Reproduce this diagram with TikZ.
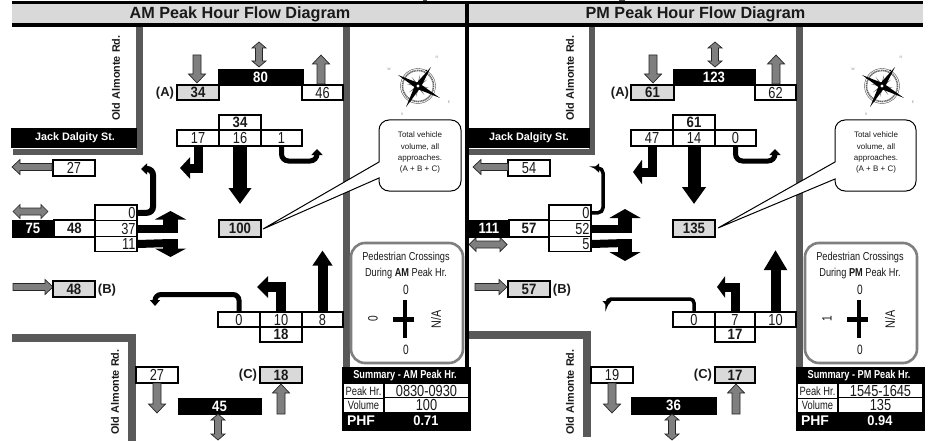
\documentclass[tikz,border=0pt]{standalone}
\usepackage{fontspec}
\usepackage{graphicx}
\setmainfont{Liberation Sans}
\usetikzlibrary{arrows.meta}
\definecolor{road}{HTML}{595959}
\definecolor{band}{HTML}{D9D9D9}
\definecolor{garr}{HTML}{7F7F7F}
\definecolor{ink}{HTML}{1A1A1A}
\newcommand{\rn}[1]{\scalebox{.8}[1]{\fontsize{16}{16}\selectfont #1}}
\newcommand{\bn}[1]{\scalebox{.88}[1]{\fontsize{15}{15}\selectfont\bfseries #1}}
\newcommand{\lb}[1]{{\fontsize{13}{14}\selectfont\bfseries #1}}
\newcommand{\sq}[3]{\scalebox{#1}[1]{\fontsize{#2}{#2}\selectfont #3}}
\tikzset{
  cellbox/.style={draw=black,line width=1.5pt,fill=white,inner sep=0pt,text=ink},
  graycell/.style={cellbox,fill=band},
  darkcell/.style={draw=black,line width=.8pt,fill=black,inner sep=0pt,text=white},
  rt/.style={inner xsep=1.5pt,text width={\cw pt-3pt},align=right},
  flow/.style n args={3}{draw=black,line width=#1pt,-{Triangle[length=#2pt,width=#3pt]}},
  garrow/.style={fill=garr,draw=black!85,line width=.7pt,line join=miter},
  callout/.style={draw=black,fill=white,line width=1pt},
  pedbox/.style={draw=garr,fill=white,line width=2.6pt,rounded corners=14pt},
  rdname/.style={font=\fontsize{10.85}{11}\selectfont\bfseries,text=ink,rotate=90,inner sep=0pt},
  txt/.style={inner sep=0pt,text=ink},
}
% \cell[style]{name}{x1}{y1}{x2}{y2}{text}
\newcommand{\cell}[7][cellbox]{%
  \pgfmathsetmacro{\cw}{(#5)-(#3)}\pgfmathsetmacro{\ch}{(#6)-(#4)}%
  \node[minimum width=\cw pt,minimum height=\ch pt,#1] (#2) at ({((#3)+(#5))/2},{((#4)+(#6))/2}) {#7};}
% gray arrows
\newcommand{\gv}[3]{\draw[garrow] ({#1-4},#2) -- ({#1+4},#2) -- ({#1+4},{#3-9*sign(#3-#2)}) -- ({#1+8.5},{#3-9*sign(#3-#2)}) -- (#1,#3) -- ({#1-8.5},{#3-9*sign(#3-#2)}) -- ({#1-4},{#3-9*sign(#3-#2)}) -- cycle;}
\newcommand{\gh}[3]{\draw[garrow] (#2,{#1-3.5}) -- (#2,{#1+3.5}) -- ({#3-8*sign(#3-#2)},{#1+3.5}) -- ({#3-8*sign(#3-#2)},{#1+7.5}) -- (#3,#1) -- ({#3-8*sign(#3-#2)},{#1-7.5}) -- ({#3-8*sign(#3-#2)},{#1-3.5}) -- cycle;}
\newcommand{\gvv}[3]{\draw[garrow] (#1,#2) -- ({#1+7},{#2+6}) -- ({#1+3.5},{#2+6}) -- ({#1+3.5},{#3-6}) -- ({#1+7},{#3-6}) -- (#1,#3) -- ({#1-7},{#3-6}) -- ({#1-3.5},{#3-6}) -- ({#1-3.5},{#2+6}) -- ({#1-7},{#2+6}) -- cycle;}
\newcommand{\ghh}[3]{\draw[garrow] (#2,#1) -- ({#2+7},{#1-7}) -- ({#2+7},{#1-3.5}) -- ({#3-7},{#1-3.5}) -- ({#3-7},{#1-7}) -- (#3,#1) -- ({#3-7},{#1+7}) -- ({#3-7},{#1+3.5}) -- ({#2+7},{#1+3.5}) -- ({#2+7},{#1+7}) -- cycle;}
% compass
\newcommand{\compass}[2]{\begin{scope}[shift={(#1,#2)}]
  \draw[black!60,line width=1.6pt,dash pattern=on 1.2pt off .6pt] (0,0) circle (15.5);
  \draw[black!70,line width=.4pt] (0,0) circle (17.5);
  \foreach \a in {10,55,100,145,190,235,280,325}{\fill[black!55] (\a:11) -- (\a+90:1.2) -- (\a+180:1.2) -- (\a-90:1.2) -- cycle;}
  \foreach \a in {28,118,208,298}{\fill[black] (\a:17.5) circle (.9);}
  \fill[black] (-20,-11) -- (1.4,-2.6) -- (22,12) -- (-1.4,2.6) -- cycle;
  \fill[black] (13,-19) -- (2.5,1.7) -- (-12,21) -- (-2.5,-1.7) -- cycle;
  \fill[white] (0,0) circle (1.6);
  \node[inner sep=0pt,text=black!45,font=\fontsize{3.5}{4}\selectfont] (#1n) at (19,-29) {N};
  \node[inner sep=0pt,text=black!45,font=\fontsize{3.5}{4}\selectfont] (#1w) at (-29,-17) {W};
  \node[inner sep=0pt,text=black!45,font=\fontsize{3.5}{4}\selectfont] (#1e) at (31,16) {E};
  \node[inner sep=0pt,text=black!45,font=\fontsize{3.5}{4}\selectfont] (#1s) at (-16,28) {S};
\end{scope}}
% pedestrian panel: prefix, cx, box x1, box x2, period, left value
\newcommand{\pedpanel}[6]{%
  \draw[pedbox] (#3,243) rectangle (#4,363);
  \node[txt] (#1pa) at (#2,258) {\sq{.8}{11.5}{Pedestrian Crossings}};
  \node[txt] (#1pb) at (#2,274) {\sq{.8}{11.5}{During \textbf{#5} Peak Hr.}};
  \node[txt] (#1pn) at (#2,290) {\sq{.75}{13.5}{0}};
  \node[txt] (#1ps) at (#2,350) {\sq{.75}{13.5}{0}};
  \node[txt,rotate=90] (#1pw) at ({#2-33},318.5) {\sq{.75}{13.5}{#6}};
  \node[txt,rotate=90] (#1pe) at ({#2+30},319) {\sq{.8}{13.5}{N/A}};
  \fill[black] ({#2-3.5},300) rectangle ({#2+0.5},338);
  \fill[black] ({#2-13},317) rectangle ({#2+8},322);
}
% summary: prefix, x0, period, time, volume, phf
\newcommand{\summarybox}[6]{%
  \cell[darkcell]{#1s}{#2}{367}{#2+128}{430}{}
  \node[inner sep=0pt,text=white] (#1st) at ({#2+63},375.5) {\sq{.8}{11.5}{\bfseries Summary - #3 Peak Hr.}};
  \cell[fill=white,inner sep=0pt,text=ink]{#1l1}{#2+2}{384}{#2+41}{398}{\sq{.78}{12}{Peak Hr.}}
  \cell[fill=white,inner sep=0pt,text=ink]{#1v1}{#2+43}{384}{#2+126}{397}{\rn{#4}}
  \cell[fill=white,inner sep=0pt,text=ink]{#1l2}{#2+2}{399}{#2+41}{412}{\sq{.78}{12}{Volume}}
  \cell[fill=white,inner sep=0pt,text=ink]{#1v2}{#2+43}{398}{#2+126}{412}{\rn{#5}}
  \node[inner sep=0pt,text=white] (#1pl) at ({#2+19},421) {\sq{1}{14}{\bfseries PHF}};
  \node[inner sep=0pt,text=white] (#1pv) at ({#2+84},421) {\sq{.92}{14}{\bfseries #6}};
}
\newcommand{\vollines}[4]{% prefix, cx, cy, (unused)
  \node[txt,align=center,font=\fontsize{8}{11.1}\selectfont] (#1ct) at (#2,#3) {Total vehicle\\volume, all\\approaches.\\(A + B + C)};}
\begin{document}
\begin{tikzpicture}[x=1pt,y=-1pt,line join=miter]
\useasboundingbox (0,0) rectangle (942,441);
\fill[white] (0,0) rectangle (942,441);
% stray marks at the top edge
\fill[black!70] (423,0) rectangle (427,1);
\fill[black!70] (619,0) rectangle (625,1);
%%%%%%%%%%%%%%%%% roads
\fill[road] (136,26) rectangle (143,155);
\fill[road] (13,149) rectangle (143,155);
\fill[road] (343,26) rectangle (350,367);
\fill[road] (12,334) rectangle (136,342);
\fill[road] (128,334) rectangle (136,441);
\fill[road] (589,26) rectangle (595,155);
\fill[road] (466,149) rectangle (595,155);
\fill[road] (796,26) rectangle (803,367);
\fill[road] (467,331) rectangle (591,339);
\fill[road] (583,331) rectangle (591,437);
%%%%%%%%%%%%%%%%% title bands
\fill[black] (12,1) rectangle (923,4.5);
\fill[black] (12,23.5) rectangle (923,27.5);
\fill[black] (465,1) rectangle (469,430);
\cell[fill=band,inner sep=0pt]{tam}{12}{4.5}{465}{23.5}{}
\cell[fill=band,inner sep=0pt]{tpm}{469}{4.5}{923}{23.5}{}
\node[inner sep=0pt,text=ink,font=\fontsize{16.2}{17}\selectfont\bfseries] (tamt) at (240,14) {AM Peak Hour Flow Diagram};
\node[inner sep=0pt,text=ink,font=\fontsize{16.2}{17}\selectfont\bfseries] (tpmt) at (695.5,14) {PM Peak Hour Flow Diagram};
%%%%%%%%%%%%%%%%% AM panel
\node[rdname] (aold1) at (116,78) {Old Almonte Rd.};
\node[rdname] (aold2) at (115,392) {Old Almonte Rd.};
\cell[darkcell]{ajack}{11}{128}{136}{147}{}
\node[inner sep=0pt,text=white,font=\fontsize{10.8}{11}\selectfont\bfseries] (ajackt) at (75,138) {Jack Dalgity St.};
\fill[black] (11,142.6) rectangle (136,147);
% approach A
\gv{197}{55}{83}
\cell[graycell]{aA}{177}{85}{219}{100}{\bn{34}}
\node[txt] (aAl) at (165,93) {\lb{(A)}};
\cell[darkcell]{a80}{218}{69}{303}{85}{\bn{80}}
\gvv{259}{42}{67}
\cell{a46}{302}{85}{343}{100}{\rn{46}}
\gv{321}{84}{55}
% south-bound movements
\cell{a34}{219}{115}{261}{130}{\bn{34}}
\cell{a17}{177}{130}{219}{146}{\rn{17}}
\cell{a16}{219}{130}{261}{146}{\rn{16}}
\cell{a1}{261}{130}{302}{146}{\rn{1}}
\coordinate (a17t) at (180,168);
\draw[flow={9}{10}{21}] (a17.south) |- (a17t);
\coordinate (a16t) at (240,204);
\draw[flow={14}{16}{22}] (a16.south) -- (a16t);
\coordinate (a1m) at (317,161); \coordinate (a1t) at (317,149);
\draw[flow={5}{6}{11},rounded corners=7pt] (a1.south) |- (a1m) -- (a1t);
% compass
\compass{418}{86}
% callout
\cell[graycell]{a100}{219}{220}{261}{237}{\bn{100}}
\coordinate (a100t) at (263,229);
\draw[callout] (a100t) -- (379,162) [rounded corners=10pt] -- (379,120) -- (461,120) -- (461,191) -- (379,191) [sharp corners] -- (379,178) -- cycle;
\vollines{a}{420}{152.5}{}
% west leg
\cell{a27}{53}{160}{95}{176}{\rn{27}}
\gh{167}{52}{12}
\ghh{211.5}{13}{48}
\cell[darkcell]{a75}{12}{220}{54}{237}{\bn{75}}
\cell{a48}{54}{220}{95}{237}{\bn{48}}
\cell[cellbox,rt]{aw0}{95}{205}{137}{220.5}{\rn{0}}
\cell[cellbox,rt]{aw37}{95}{220.5}{137}{236.5}{\rn{37}}
\cell[cellbox,rt]{aw11}{95}{236.5}{137}{251.5}{\rn{11}}
\coordinate (aw0m) at (153,169); \coordinate (aw0t) at (141,169);
\draw[flow={6}{6}{11},rounded corners=6pt] (aw0.east) -| (aw0m) -- (aw0t);
\coordinate (aj37) at (170.5,228.5); \coordinate (aj37b) at (170.5,233); \coordinate (aj37t) at (170.5,211);
\draw[draw=black,line width=8pt] (aw37.east) -- (aj37);
\draw[flow={15}{8.5}{31}] (aj37b) -- (aj37t);
\coordinate (aj11) at (170.5,243); \coordinate (aj11b) at (170.5,239); \coordinate (aj11t) at (170.5,257);
\draw[draw=black,line width=8pt] (aw11.east) -- (aj11);
\draw[flow={15}{8.5}{31}] (aj11b) -- (aj11t);
% approach B
\gh{287}{13}{53}
\cell[graycell]{aB}{53}{281}{95}{297}{\bn{48}}
\node[txt] (aBl) at (107,290) {\lb{(B)}};
% north-bound movements
\cell{as0}{218}{312}{260}{327}{\rn{0}}
\cell{as10}{260}{312}{302}{327}{\rn{10}}
\cell{as8}{302}{312}{343}{327}{\rn{8}}
\cell{a18}{260}{327}{302}{342}{\bn{18}}
\coordinate (as0m) at (155,294.5); \coordinate (as0t) at (155,306);
\draw[flow={5}{6}{10},rounded corners=6pt] (as0.north) |- (as0m) -- (as0t);
\coordinate (as10t) at (257,287);
\draw[flow={10}{11}{21}] (as10.north) |- (as10t);
\coordinate (as8t) at (322.5,250.5);
\draw[flow={10}{15}{19}] (as8.north) -- (as8t);
% south leg
\cell{a27s}{136}{367}{178}{383}{\rn{27}}
\gv{157}{383}{413}
\cell[darkcell]{a45}{178}{398}{261}{414}{\bn{45}}
\gvv{218}{414}{440}
\cell[graycell]{aC}{260}{367}{302}{383}{\bn{18}}
\node[txt] (aCl) at (248,375) {\lb{(C)}};
\gv{281}{414}{384}
\pedpanel{a}{406}{351}{463}{AM}{0}
\summarybox{a}{342}{AM}{0830-0930}{100}{0.71}
%%%%%%%%%%%%%%%%% PM panel
\node[rdname] (pold1) at (570,78) {Old Almonte Rd.};
\node[rdname] (pold2) at (570,392) {Old Almonte Rd.};
\cell[darkcell]{pjack}{469}{128}{589}{147}{}
\node[inner sep=0pt,text=white,font=\fontsize{10.8}{11}\selectfont\bfseries] (pjackt) at (529,138) {Jack Dalgity St.};
\fill[black] (469,142.6) rectangle (589,147);
\gv{653}{55}{83}
\cell[graycell]{pA}{631}{85}{674}{100}{\bn{61}}
\node[txt] (pAl) at (620,93) {\lb{(A)}};
\cell[darkcell]{p123}{673}{69}{755}{85}{\bn{123}}
\gvv{715}{42}{67}
\cell{p62}{755}{85}{796}{100}{\rn{62}}
\gv{776}{84}{55}
\cell{p61}{673}{115}{715}{130}{\bn{61}}
\cell{p47}{631}{130}{673}{146}{\rn{47}}
\cell{p14}{673}{130}{715}{146}{\rn{14}}
\cell{p0}{715}{130}{756}{146}{\rn{0}}
\coordinate (p47t) at (633,172);
\draw[flow={9}{9}{24}] (p47.south) |- (p47t);
\coordinate (p14t) at (694,204);
\draw[flow={13}{17}{23}] (p14.south) -- (p14t);
\coordinate (p0m) at (775,161); \coordinate (p0t) at (775,149);
\draw[flow={5}{6}{11},rounded corners=7pt] (p0.south) |- (p0m) -- (p0t);
\compass{882}{86}
\cell[graycell]{p135}{673}{220}{715}{237}{\bn{135}}
\coordinate (p135t) at (718,228);
\draw[callout] (p135t) -- (835,162) [rounded corners=10pt] -- (835,120) -- (916,120) -- (916,191) -- (835,191) [sharp corners] -- (835,179) -- cycle;
\vollines{p}{876}{152.5}{}
\cell{p54}{508}{160}{550}{176}{\rn{54}}
\gh{167}{508}{473}
\ghh{244.5}{469}{507}
\cell[darkcell]{p111}{469}{220}{509}{237}{\bn{111}}
\cell{p57}{509}{220}{549}{237}{\bn{57}}
\cell[cellbox,rt]{pw0}{549}{205}{591}{220.5}{\rn{0}}
\cell[cellbox,rt]{pw52}{549}{220.5}{591}{236.5}{\rn{52}}
\cell[cellbox,rt]{pw5}{549}{236.5}{591}{251.5}{\rn{5}}
\coordinate (pw0m) at (603,168); \coordinate (pw0t) at (594,168);
\draw[flow={3.5}{5}{9},rounded corners=5pt] (pw0.east) -| (pw0m) -- (pw0t);
\coordinate (pj52) at (625,228.5); \coordinate (pj52b) at (625,233); \coordinate (pj52t) at (625,209);
\draw[draw=black,line width=8pt] (pw52.east) -- (pj52);
\draw[flow={14}{9}{31}] (pj52b) -- (pj52t);
\coordinate (pj5) at (625,243); \coordinate (pj5b) at (625,239); \coordinate (pj5t) at (625,261);
\draw[draw=black,line width=8pt] (pw5.east) -- (pj5);
\draw[flow={14}{9}{31}] (pj5b) -- (pj5t);
\gh{287}{475}{507}
\cell[graycell]{pB}{508}{281}{550}{297}{\bn{57}}
\node[txt] (pBl) at (562,290) {\lb{(B)}};
\cell{ps0}{673}{312}{715}{327}{\rn{0}}
\cell{ps7}{715}{312}{755}{327}{\rn{7}}
\cell{ps10}{755}{312}{796}{327}{\rn{10}}
\cell{p17}{715}{327}{755}{342}{\bn{17}}
\coordinate (ps0m) at (607,299); \coordinate (ps0t) at (607,306);
\draw[flow={3.5}{5}{9},rounded corners=4pt] (ps0.north) |- (ps0m) -- (ps0t);
\coordinate (ps7t) at (717,287);
\draw[flow={9}{8}{21}] (ps7.north) |- (ps7t);
\coordinate (ps10t) at (775.5,250);
\draw[flow={10}{20}{22}] (ps10.north) -- (ps10t);
\cell{p19}{591}{367}{633}{383}{\rn{19}}
\gv{612}{383}{413}
\cell[darkcell]{p36}{631}{397}{716}{414}{\bn{36}}
\gvv{672}{414}{440}
\cell[graycell]{pC}{715}{367}{755}{383}{\bn{17}}
\node[txt] (pCl) at (703,375) {\lb{(C)}};
\gv{736}{414}{384}
\pedpanel{p}{860}{805}{917}{PM}{1}
\summarybox{p}{796}{PM}{1545-1645}{135}{0.94}
\end{tikzpicture}
\end{document}
